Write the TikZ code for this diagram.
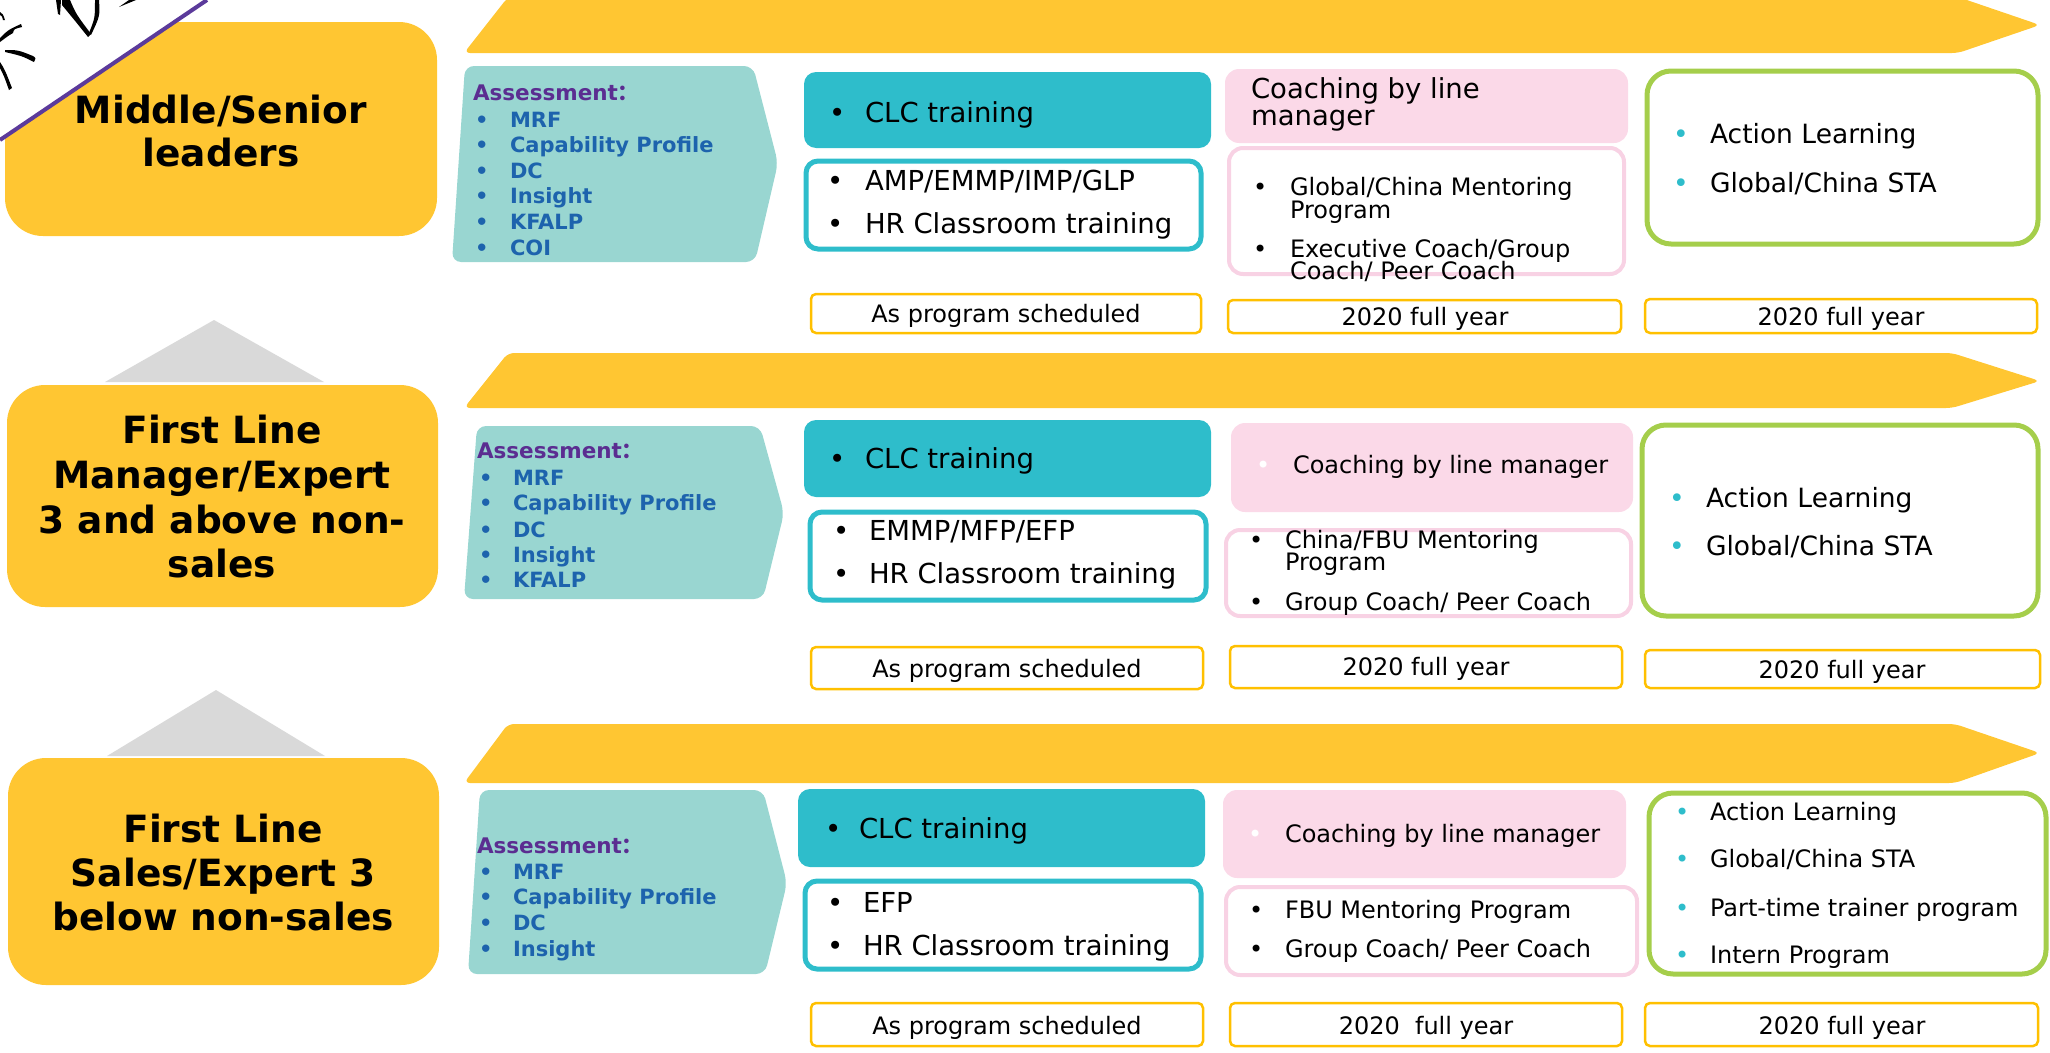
\documentclass[tikz,border=0pt]{standalone}
\usepackage{fontspec}
\setmainfont{DejaVu Sans}
\newfontfamily\cjk{Noto Sans CJK SC}
\usetikzlibrary{fit}

\definecolor{gold}{HTML}{FFC632}
\definecolor{assess}{HTML}{99D6D1}
\definecolor{clc}{HTML}{2EBDCB}
\definecolor{pinkf}{HTML}{FBD9E8}
\definecolor{pinkb}{HTML}{F8D2E4}
\definecolor{greenb}{HTML}{A5CE4B}
\definecolor{schedb}{HTML}{FFC000}
\definecolor{purpletxt}{HTML}{5B2D91}
\definecolor{bluetxt}{HTML}{1D63AD}
\definecolor{grayt}{HTML}{D9D9D9}
\definecolor{stampline}{HTML}{5B3A9B}

\newcommand\setfs[2]{\fontsize{#1}{#2}\selectfont}

\begin{document}
\begin{tikzpicture}[x=1pt,y=-1pt,
  box/.style={fit={#1}, inner sep=0pt, outer sep=0pt},
  leader/.style={fill=gold, rounded corners=38pt},
  ltxt/.style={anchor=base, inner sep=0pt, outer sep=0pt, font=\bfseries\setfs{37.5}{37.5}},
  clcbox/.style={fill=clc, rounded corners=12pt},
  ringbox/.style={draw=clc, line width=5pt, fill=white, rounded corners=12pt},
  pinkbox/.style={fill=pinkf, rounded corners=14pt},
  pinkring/.style={draw=pinkb, line width=4pt, fill=white, rounded corners=14pt},
  greenring/.style={draw=greenb, line width=5pt, fill=white, rounded corners=24pt},
  when/.style={draw=schedb, line width=2.5pt, fill=white, rounded corners=5pt},
  wtxt/.style={anchor=base, inner sep=0pt, outer sep=0pt, font=\setfs{24}{24}},
  txt/.style={anchor=base west, inner sep=0pt, outer sep=0pt},
  big/.style={txt, font=\setfs{27.5}{27.5}},
  mid/.style={txt, font=\setfs{24}{24}},
  grn/.style={txt, font=\setfs{26.5}{26.5}},
  ahead/.style={txt, text=purpletxt, font=\bfseries\setfs{21.5}{21.5}},
  aitem/.style={txt, text=bluetxt, font=\bfseries\setfs{21}{21}},
  banner/.style={fill=gold, rounded corners=6pt},
  chevron/.style={fill=assess, rounded corners=9pt},
  uptri/.style={fill=grayt},
]
\useasboundingbox (0,0) rectangle (2050,1052);
\clip (0,0) rectangle (2050,1052);

% ---------- long timeline banners ----------
\fill[banner] (508,-3) -- (1958,-3) -- (2040,25) -- (1958,53) -- (464,53) -- cycle;
\fill[banner] (508,353) -- (1952,353) -- (2040,381) -- (1952,408) -- (464,408) -- cycle;
\fill[banner] (508,724) -- (1955,724) -- (2040,753) -- (1955,783) -- (464,783) -- cycle;

% ---------- grey steps between levels ----------
\fill[uptri] (214,320) -- (324,382) -- (105,382) -- cycle;
\fill[uptri] (216,690) -- (325,756) -- (107,756) -- cycle;

% ---------- level boxes ----------
\node[leader, box={(5,22)(437,236)}] (lead1) {};
\node[leader, box={(7,385)(438,607)}] (lead2) {};
\node[leader, box={(8,758)(439,985)}] (lead3) {};

\node[ltxt] (lead1a) at (221,123) {Middle/Senior};
\node[ltxt] (lead1b) at (221,166) {leaders};

\node[ltxt] (lead2a) at (222,443) {First Line};
\node[ltxt] (lead2b) at (222,488) {Manager/Expert};
\node[ltxt] (lead2c) at (222,533) {3 and above non-};
\node[ltxt] (lead2d) at (222,577) {sales};

\node[ltxt] (lead3a) at (223,842) {First Line};
\node[ltxt] (lead3b) at (223,886) {Sales/Expert 3};
\node[ltxt] (lead3c) at (223,930) {below non-sales};

% ---------- corner seal ----------
\fill[white] (0,0) -- (207,0) -- (0,140) -- cycle;
\draw[stampline, line width=4pt] (0,140) -- (207,0);
\fill[black] (56,0) -- (61,0) -- (60,15) -- (58,14) -- cycle;
\fill[black] (62,0) -- (70,0) .. controls (76,14) .. (91,34) -- (88,37) .. controls (76,22) .. (62,5) -- cycle;
\fill[black] (95,0) -- (99,0) .. controls (100,16) .. (91,35) -- (89,33) .. controls (95,18) .. (95,0) -- cycle;
\fill[black] (119,7) -- (136,0) -- (129,0) -- cycle;
\fill[black] (0,38) .. controls (8,30) .. (21,24) -- (22,27) .. controls (14,29) .. (13,33) .. controls (8,36) .. (0,42) -- cycle;
\fill[black] (0,12) .. controls (3,14) .. (5,20) -- (3,20) .. controls (2,16) .. (0,15) -- cycle;
\fill[black] (5,50) .. controls (18,50) .. (33,56) .. controls (36,58) .. (34,62) .. controls (22,56) .. (5,52) -- cycle;
\fill[black] (0,62) .. controls (5,70) .. (12,88) -- (9,90) .. controls (4,76) .. (0,68) -- cycle;

% ---------- assessment chevrons ----------
\fill[chevron] (465,66) -- (753,66) -- (778,163) -- (755,262) -- (452,262) -- cycle;
\fill[chevron] (477,426) -- (760,426) -- (784,513) -- (763,599) -- (464,599) -- cycle;
\fill[chevron] (480,790) -- (763,790) -- (787,883) -- (765,974) -- (468,974) -- cycle;

\node[ahead] (as1) at (473,100) {Assessment{\cjk ：}};
\foreach \t/\yy [count=\i] in {MRF/127,Capability Profile/152,DC/178,Insight/203,KFALP/229,COI/255}{
  \node[aitem] (as1b\i) at (475,\yy) {•};
  \node[aitem] (as1i\i) at (510,\yy) {\t};
}
\node[ahead] (as2) at (477,458) {Assessment{\cjk ：}};
\foreach \t/\yy [count=\i] in {MRF/485,Capability Profile/510,DC/537,Insight/562,KFALP/587}{
  \node[aitem] (as2b\i) at (479,\yy) {•};
  \node[aitem] (as2i\i) at (513,\yy) {\t};
}
\node[ahead] (as3) at (477,853) {Assessment{\cjk ：}};
\foreach \t/\yy [count=\i] in {MRF/879,Capability Profile/904,DC/930,Insight/956}{
  \node[aitem] (as3b\i) at (479,\yy) {•};
  \node[aitem] (as3i\i) at (513,\yy) {\t};
}

% ================= level 1 =================
\node[clcbox, box={(804,72)(1211,148)}] (clc1) {};
\node[big] (clc1b) at (829,122) {•};
\node[big] (clc1t) at (865,122) {CLC training};

\node[ringbox, box={(806,161)(1201,249)}] (prog1) {};
\node[big] (prog1b1) at (827,190) {•};
\node[big] (prog1t1) at (865,190) {AMP/EMMP/IMP/GLP};
\node[big] (prog1b2) at (827,233) {•};
\node[big] (prog1t2) at (865,233) {HR Classroom training};

\node[pinkbox, box={(1225,69)(1628,143)}] (coach1) {};
\node[big] (coach1t1) at (1251,98) {Coaching by line};
\node[big] (coach1t2) at (1251,125) {manager};

\node[pinkring, box={(1229,148)(1624,274)}] (ment1) {};
\node[mid] (ment1b1) at (1253,195) {•};
\node[mid] (ment1t1) at (1290,195) {Global/China Mentoring};
\node[mid] (ment1t1b) at (1290,218) {Program};
\node[mid] (ment1b2) at (1253,257) {•};
\node[mid] (ment1t2) at (1290,257) {Executive Coach/Group};
\node[mid] (ment1t2b) at (1290,279) {Coach/ Peer Coach};

\node[greenring, box={(1647,71)(2038,244)}] (act1) {};
\node[grn, text=clc] (act1b1) at (1673,143) {•};
\node[grn] (act1t1) at (1710,143) {Action Learning};
\node[grn, text=clc] (act1b2) at (1673,192) {•};
\node[grn] (act1t2) at (1710,192) {Global/China STA};

\node[when, box={(811,294)(1201,333)}] (when1a) {};
\node[when, box={(1228,300)(1621,333)}] (when1b) {};
\node[when, box={(1645,299)(2037,333)}] (when1c) {};
\node[wtxt] (when1at) at (1006,322) {As program scheduled};
\node[wtxt] (when1bt) at (1425,325) {2020 full year};
\node[wtxt] (when1ct) at (1841,325) {2020 full year};

% ================= level 2 =================
\node[clcbox, box={(804,420)(1211,497)}] (clc2) {};
\node[big] (clc2b) at (829,468) {•};
\node[big] (clc2t) at (865,468) {CLC training};

\node[ringbox, box={(810,512)(1206,600)}] (prog2) {};
\node[big] (prog2b1) at (833,540) {•};
\node[big] (prog2t1) at (869,540) {EMMP/MFP/EFP};
\node[big] (prog2b2) at (833,583) {•};
\node[big] (prog2t2) at (869,583) {HR Classroom training};

\node[pinkbox, box={(1231,423)(1633,512)}] (coach2) {};
\node[mid, text=white] (coach2b) at (1256,473) {•};
\node[mid] (coach2t) at (1293,473) {Coaching by line manager};

\node[pinkring, box={(1226,530)(1631,616)}] (ment2) {};
\node[mid] (ment2b1) at (1249,548) {•};
\node[mid] (ment2t1) at (1285,548) {China/FBU Mentoring};
\node[mid] (ment2t1b) at (1285,570) {Program};
\node[mid] (ment2b2) at (1249,610) {•};
\node[mid] (ment2t2) at (1285,610) {Group Coach/ Peer Coach};

\node[greenring, box={(1642,425)(2038,616)}] (act2) {};
\node[grn, text=clc] (act2b1) at (1669,507) {•};
\node[grn] (act2t1) at (1706,507) {Action Learning};
\node[grn, text=clc] (act2b2) at (1669,555) {•};
\node[grn] (act2t2) at (1706,555) {Global/China STA};

\node[when, box={(811,647)(1203,689)}] (when2a) {};
\node[when, box={(1230,646)(1622,688)}] (when2b) {};
\node[when, box={(1645,650)(2040,688)}] (when2c) {};
\node[wtxt] (when2at) at (1007,677) {As program scheduled};
\node[wtxt] (when2bt) at (1426,675) {2020 full year};
\node[wtxt] (when2ct) at (1842,678) {2020 full year};

% ================= level 3 =================
\node[clcbox, box={(798,789)(1205,867)}] (clc3) {};
\node[big] (clc3b) at (825,838) {•};
\node[big] (clc3t) at (859,838) {CLC training};

\node[ringbox, box={(805,881)(1201,969)}] (prog3) {};
\node[big] (prog3b1) at (827,912) {•};
\node[big] (prog3t1) at (863,912) {EFP};
\node[big] (prog3b2) at (827,955) {•};
\node[big] (prog3t2) at (863,955) {HR Classroom training};

\node[pinkbox, box={(1223,790)(1626,878)}] (coach3) {};
\node[mid, text=white] (coach3b) at (1248,842) {•};
\node[mid] (coach3t) at (1285,842) {Coaching by line manager};

\node[pinkring, box={(1226,887)(1637,975)}] (ment3) {};
\node[mid] (ment3b1) at (1249,918) {•};
\node[mid] (ment3t1) at (1285,918) {FBU Mentoring Program};
\node[mid] (ment3b2) at (1249,957) {•};
\node[mid] (ment3t2) at (1285,957) {Group Coach/ Peer Coach};

\node[greenring, box={(1649,793)(2046,974)}] (act3) {};
\node[mid, text=clc] (act3b1) at (1675,820) {•};
\node[mid] (act3t1) at (1710,820) {Action Learning};
\node[mid, text=clc] (act3b2) at (1675,867) {•};
\node[mid] (act3t2) at (1710,867) {Global/China STA};
\node[mid, text=clc] (act3b3) at (1675,916) {•};
\node[mid] (act3t3) at (1710,916) {Part-time trainer program};
\node[mid, text=clc] (act3b4) at (1675,963) {•};
\node[mid] (act3t4) at (1710,963) {Intern Program};

\node[when, box={(811,1003)(1203,1046)}] (when3a) {};
\node[when, box={(1230,1003)(1622,1046)}] (when3b) {};
\node[when, box={(1645,1003)(2038,1046)}] (when3c) {};
\node[wtxt] (when3at) at (1007,1034) {As program scheduled};
\node[wtxt] (when3bt) at (1426,1034) {2020\ \ full year};
\node[wtxt] (when3ct) at (1842,1034) {2020 full year};
\end{tikzpicture}
\end{document}
